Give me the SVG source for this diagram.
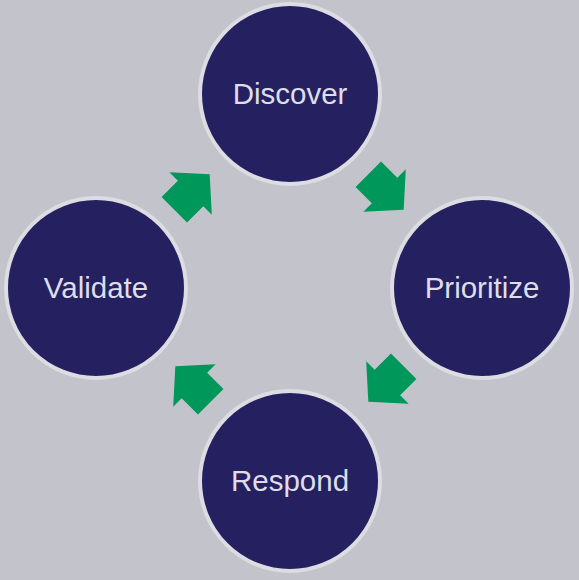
<svg xmlns="http://www.w3.org/2000/svg" width="579" height="580" viewBox="0 0 579 580">
<defs>
<style>
.node circle{fill:#252160;stroke:#dcdce2;stroke-width:4}
.node text{font-family:"Liberation Sans",Arial,sans-serif;font-size:29.5px;fill:#dedeea;text-anchor:middle}
.arrow{fill:#00975a}
</style>
<polygon id="arr" points="-25,-18 -2,-18 -2,-30 25,0 -2,30 -2,18 -25,18"/>
</defs>
<rect width="579" height="580" fill="#c3c3cb"/>
<g id="connectors">
<use href="#arr" class="arrow" transform="translate(386,192) rotate(45)"/>
<use href="#arr" class="arrow" transform="translate(386,384) rotate(135)"/>
<use href="#arr" class="arrow" transform="translate(193,384) rotate(225)"/>
<use href="#arr" class="arrow" transform="translate(192,192) rotate(315)"/>
</g>
<g id="discover" class="node"><circle cx="290" cy="94" r="90"/><text x="290" y="104">Discover</text></g>
<g id="prioritize" class="node"><circle cx="482" cy="288" r="90"/><text x="482" y="298">Prioritize</text></g>
<g id="respond" class="node"><circle cx="290" cy="481" r="90"/><text x="290" y="491">Respond</text></g>
<g id="validate" class="node"><circle cx="96" cy="288" r="90"/><text x="96" y="298">Validate</text></g>
</svg>
